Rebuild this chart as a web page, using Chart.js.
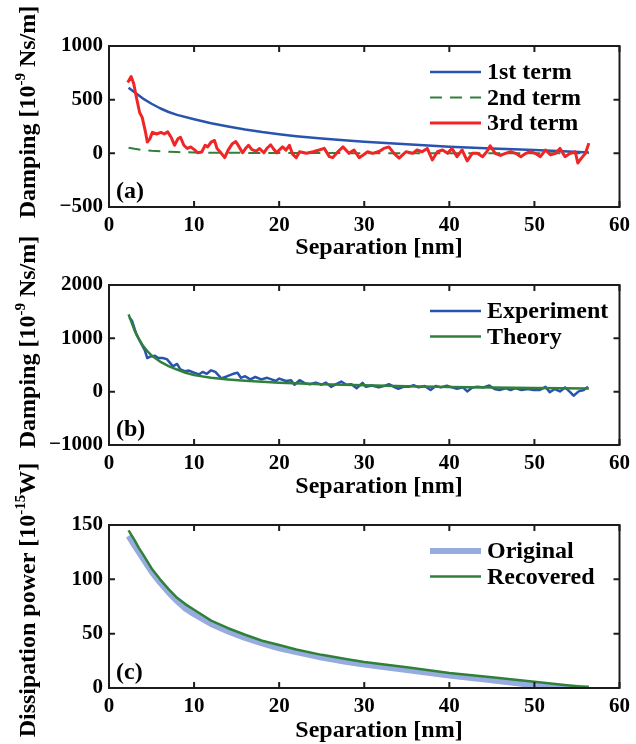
<!DOCTYPE html>
<html>
<head>
<meta charset="utf-8">
<script src="https://cdn.jsdelivr.net/npm/chart.js@4/dist/chart.umd.min.js"></script>
<style>
body { margin: 0; background: #fff; }
#wrap { position: relative; width: 636px; height: 744px; }
canvas { position: absolute; left: 0; top: 0; }
</style>
</head>
<body>
<div id="wrap">
  <canvas id="pa" width="636" height="744"></canvas>
  <canvas id="pb" width="636" height="744"></canvas>
  <canvas id="pc" width="636" height="744"></canvas>
</div>
<script>
// ---- data ----
// (a) damping terms
var sepA = [2.3, 3, 4, 5, 6, 7, 8, 10, 12, 14, 16, 18, 20, 22, 25, 28, 30, 35, 40, 45, 50, 54, 56.4];
var term1 = [612, 570, 510, 462, 420, 385, 358, 318, 280, 250, 222, 198, 178, 160, 138, 120, 108, 85, 62, 46, 30, 18, 8];
var term2 = [52, 42, 31, 24, 19, 15, 12, 8, 6, 5, 4, 3, 3, 2, 2, 2, 1, 1, 1, 1, 0, 0, 0];
var sep3 = [2.2, 2.6, 2.9, 3.2, 3.6, 3.9, 4.3, 4.5, 4.8, 5.1, 5.6, 6.1, 6.5, 6.9, 7.3, 7.7, 8.1, 8.4, 8.8, 9.2,
  9.6, 10.1, 10.4, 10.9, 11.3, 11.6, 12, 12.4, 12.7, 13.2, 13.6, 14, 14.5, 14.9, 15.3, 15.7, 16.1, 16.4, 16.8, 17.3,
  17.7, 18.2, 18.6, 19, 19.3, 19.7, 20, 20.4, 20.8, 21.2, 21.6, 22, 22.4, 23.2, 24, 24.7, 25.3, 25.9, 26.3, 26.9,
  27.5, 28.2, 28.8, 29.4, 29.8, 30.4, 31, 31.8, 32.3, 32.9, 33.5, 34.1, 34.9, 35.7, 36.2, 36.8, 37.4, 38, 38.6, 39.2,
  39.8, 40.3, 40.9, 41.5, 42.1, 42.7, 43.3, 43.9, 44.4, 44.8, 45.4, 46, 46.6, 47.2, 47.8, 48.4, 49, 49.5, 50.1, 50.7,
  51.3, 51.9, 52.5, 53, 53.6, 54.2, 54.8, 55.1, 55.5, 56, 56.4];
var term3 = [660, 715, 650, 530, 380, 335, 195, 105, 135, 195, 180, 195, 180, 200, 150, 75, 135, 150, 75, 45,
  60, 30, 5, 12, 75, 60, 105, 120, 45, 0, -40, 30, 90, 110, 60, 5, 50, 75, 35, 20,
  45, 5, 50, 80, 45, 5, 30, 60, 30, 75, -10, -40, 15, 0, 15, 31, 46, -31, -40, 15,
  60, 0, 31, -40, -20, 15, 0, 20, 46, 60, 0, -45, 15, 0, 31, 15, 46, -62, 15, 31,
  0, 46, -31, 31, -70, 0, 0, -31, 15, 70, 0, -20, 0, 15, 0, -31, 0, 15, 0, -31,
  31, -15, 0, 46, -31, 0, 15, -90, -47, 0, 95];

// (b) experiment vs theory
var sepB = [2.4, 2.7, 3.2, 3.7, 4.2, 4.5, 4.9, 5.4, 5.8, 6.3, 6.8, 7.2, 7.5, 8, 8.4, 8.9, 9.4, 10, 10.6, 11,
  11.5, 12, 12.5, 13.2, 13.9, 14.6, 15.1, 15.5, 16, 16.6, 17.2, 17.9, 18.6, 19.1, 19.6, 20, 20.8, 21.4, 21.8, 22.4,
  23, 23.6, 24.3, 25, 25.5, 26.1, 26.7, 27.3, 27.9, 28.5, 29.1, 29.8, 30.2, 30.9, 31.7, 32.4, 32.9, 33.6, 34, 34.6,
  35.2, 35.8, 36.4, 37.1, 37.8, 38.4, 39, 39.7, 40.3, 40.9, 41.6, 42.1, 42.7, 43.3, 44, 44.7, 45.3, 45.9, 46.6, 47.2,
  47.8, 48.5, 49.2, 49.9, 50.6, 51.3, 51.8, 52.4, 53, 53.6, 54.2, 54.6, 55.2, 55.8, 56.3];
var experiment = [1390, 1330, 1085, 930, 780, 630, 660, 675, 630, 630, 610, 535, 475, 520, 415, 385, 395, 355, 325, 370,
  335, 400, 370, 250, 290, 335, 355, 260, 290, 230, 275, 230, 260, 230, 200, 245, 200, 215, 130, 215,
  160, 140, 170, 130, 170, 90, 140, 190, 130, 140, 65, 165, 90, 115, 80, 110, 140, 80, 55, 90,
  90, 120, 80, 105, 30, 105, 80, 110, 80, 55, 80, 5, 80, 90, 80, 115, 50, 30, 65, 30,
  65, 30, 50, 30, 30, 90, -10, 50, 5, 80, -10, -75, 5, 30, 90];
var sepT = [2.3, 3, 3.5, 4, 4.5, 5, 6, 7, 8, 9, 10, 12, 14, 16, 18, 20, 25, 30, 35, 40, 45, 50, 56.4];
var theory = [1450, 1150, 990, 860, 760, 680, 565, 480, 415, 355, 310, 262, 230, 205, 185, 168, 138, 120, 103, 88, 78, 68, 58];

// (c) dissipation power
var sepC = [2.3, 3, 3.5, 4, 5, 6, 7, 8, 9, 10, 12, 14, 16, 18, 20, 22, 25, 28, 30, 35, 40, 45, 50, 53, 56.4];
var original = [140, 131, 125, 119, 107, 97, 88, 80, 73, 68, 59, 52, 46, 41, 36.5, 33, 28, 24, 21.5, 16.5, 11.5, 7, 2.5, 0.5, 0];
var recovered = [145, 136, 129, 123, 110, 100, 91, 83, 77, 72, 62, 55, 49, 43.5, 39.5, 35.5, 30.5, 26.5, 24, 19, 13.8, 9.8, 5.8, 3.2, 0.5];

var xTicks = [0, 10, 20, 30, 40, 50, 60];

// ---- helpers ----
var SERIF = '"Liberation Serif", "Times New Roman", serif';
var BLUE = 'rgb(40, 84, 176)';
var GREEN = 'rgb(48, 128, 58)';
var RED = 'rgb(240, 38, 38)';
var LIGHTBLUE = 'rgb(150, 172, 222)';

function pts(xs, ys) {
  return xs.map(function (x, i) { return {x: x, y: ys[i]}; });
}

// draws text with optional superscript parts, centred on (cx, cy)
function drawRich(ctx, parts, cx, cy, rotate) {
  var big = 'bold 24px ' + SERIF, small = 'bold 15px ' + SERIF;
  ctx.save();
  ctx.translate(cx, cy);
  if (rotate) ctx.rotate(-Math.PI / 2);
  var w = 0;
  parts.forEach(function (p) { ctx.font = p[1] ? small : big; w += ctx.measureText(p[0]).width; });
  var xx = -w / 2;
  ctx.fillStyle = '#000';
  ctx.textBaseline = 'alphabetic';
  ctx.textAlign = 'left';
  parts.forEach(function (p) {
    ctx.font = p[1] ? small : big;
    ctx.fillText(p[0], xx, p[1] ? -2 : 8);
    xx += ctx.measureText(p[0]).width;
  });
  ctx.restore();
}

var framePlugin = {
  id: 'frame',
  afterDatasetsDraw: function (chart) {
    var ctx = chart.ctx, a = chart.chartArea, sx = chart.scales.x, sy = chart.scales.y;
    var info = chart.options.plugins.frame;
    ctx.save();
    ctx.strokeStyle = '#1c1c1c';
    ctx.lineWidth = 2;
    ctx.strokeRect(a.left, a.top, a.right - a.left, a.bottom - a.top);
    ctx.beginPath();
    sx.ticks.forEach(function (t) {
      var px = sx.getPixelForValue(t.value);
      ctx.moveTo(px, a.bottom); ctx.lineTo(px, a.bottom - 6);
      ctx.moveTo(px, a.top); ctx.lineTo(px, a.top + 6);
    });
    sy.ticks.forEach(function (t) {
      var py = sy.getPixelForValue(t.value);
      ctx.moveTo(a.left, py); ctx.lineTo(a.left + 6, py);
      ctx.moveTo(a.right, py); ctx.lineTo(a.right - 6, py);
    });
    ctx.stroke();

    // legend, top right inside the box
    chart.data.datasets.forEach(function (ds, i) {
      var yy = a.top + 26 + i * 25.5;
      ctx.save();
      ctx.strokeStyle = ds.borderColor;
      ctx.lineWidth = ds.borderWidth;
      ctx.setLineDash(ds.borderDash || []);
      ctx.beginPath();
      ctx.moveTo(430, yy); ctx.lineTo(481, yy);
      ctx.stroke();
      ctx.restore();
      ctx.fillStyle = '#000';
      ctx.font = 'bold 24px ' + SERIF;
      ctx.textBaseline = 'middle';
      ctx.textAlign = 'left';
      ctx.fillText(ds.label, 487, yy + 1);
    });

    // panel letter
    ctx.fillStyle = '#000';
    ctx.font = 'bold 24px ' + SERIF;
    ctx.textBaseline = 'alphabetic';
    ctx.textAlign = 'left';
    ctx.fillText(info.letter, 116, a.bottom - 9);

    // axis titles
    drawRich(ctx, [['Separation [nm]', false]], 379, info.xTitleY, false);
    drawRich(ctx, info.yTitle, 27, info.yTitleY, true);
    ctx.restore();
  }
};

function makePanel(id, datasets, yMin, yMax, yStep, top, bottom, info) {
  return new Chart(document.getElementById(id), {
    type: 'line',
    data: {datasets: datasets},
    options: {
      responsive: false,
      animation: false,
      devicePixelRatio: 1,
      layout: {padding: {top: top, right: 15, bottom: 0, left: 0}},
      elements: {point: {radius: 0}, line: {tension: 0, borderJoinStyle: 'round'}},
      plugins: {legend: {display: false}, tooltip: {enabled: false}, frame: info},
      scales: {
        x: {
          type: 'linear', min: 0, max: 60,
          afterBuildTicks: function (s) { s.ticks = xTicks.map(function (v) { return {value: v}; }); },
          afterFit: function (s) { s.height = 744 - bottom; },
          grid: {display: false, drawTicks: false},
          border: {display: false},
          ticks: {padding: 6, color: '#000', font: {family: SERIF, weight: 'bold', size: 21}, maxRotation: 0}
        },
        y: {
          min: yMin, max: yMax,
          afterFit: function (s) { s.width = 109; },
          grid: {display: false, drawTicks: false},
          border: {display: false},
          ticks: {
            stepSize: yStep, padding: 6, color: '#000',
            font: {family: SERIF, weight: 'bold', size: 21},
            callback: function (v) { return String(v).replace('-', '\u2212'); }
          }
        }
      }
    },
    plugins: [framePlugin]
  });
}

makePanel('pa', [
  {label: '1st term', data: pts(sepA, term1), borderColor: BLUE, borderWidth: 2.5, order: 2},
  {label: '2nd term', data: pts(sepA, term2), borderColor: GREEN, borderWidth: 2, borderDash: [12, 8], order: 3},
  {label: '3rd term', data: pts(sep3, term3), borderColor: RED, borderWidth: 3, order: 1}
], -500, 1000, 500, 46, 207, {
  letter: '(a)', xTitleY: 246, yTitleY: 112,
  yTitle: [['Damping [10', false], ['-9', true], [' Ns/m]', false]]
});

makePanel('pb', [
  {label: 'Experiment', data: pts(sepB, experiment), borderColor: BLUE, borderWidth: 2.5, order: 2},
  {label: 'Theory', data: pts(sepT, theory), borderColor: GREEN, borderWidth: 2.5, order: 1}
], -1000, 2000, 1000, 285, 445, {
  letter: '(b)', xTitleY: 485, yTitleY: 342,
  yTitle: [['Damping [10', false], ['-9', true], [' Ns/m]', false]]
});

makePanel('pc', [
  {label: 'Original', data: pts(sepC, original), borderColor: LIGHTBLUE, borderWidth: 6, order: 2},
  {label: 'Recovered', data: pts(sepC, recovered), borderColor: GREEN, borderWidth: 2.5, order: 1}
], 0, 150, 50, 525, 688, {
  letter: '(c)', xTitleY: 729, yTitleY: 600,
  yTitle: [['Dissipation power [10', false], ['-15', true], ['W]', false]]
});
</script>
</body>
</html>
